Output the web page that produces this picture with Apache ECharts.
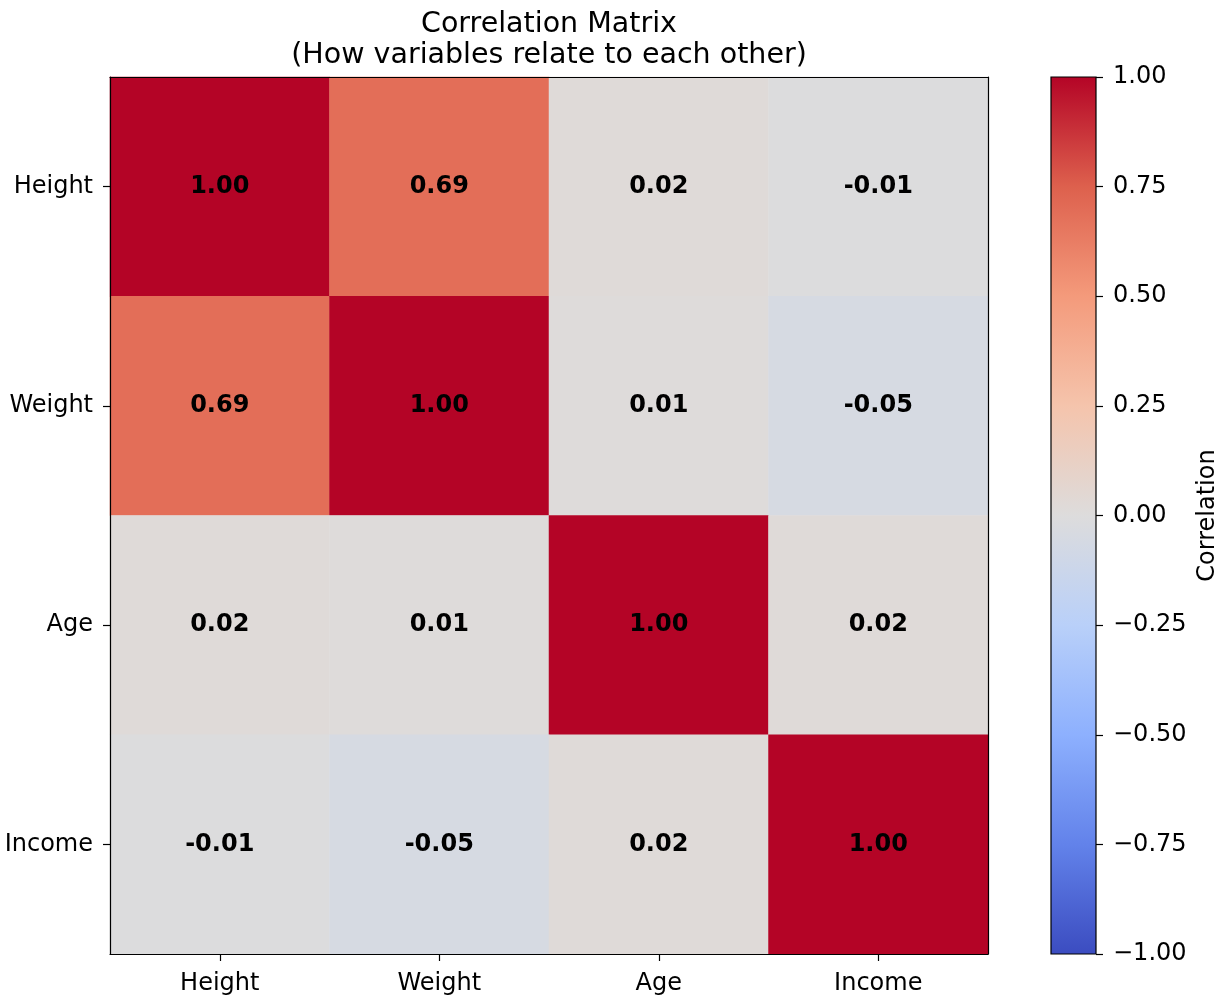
<!DOCTYPE html>
<html>
<head>
<meta charset="utf-8">
<title>Correlation Matrix</title>
<script src="https://cdn.jsdelivr.net/npm/echarts@6/dist/echarts.min.js"></script>
<style>
  html, body { margin: 0; padding: 0; background: #fff; }
  #chart { width: 1225px; height: 1000px; }
</style>
</head>
<body>
<div id="chart"></div>
<script>
// Variables shown on both axes
const variables = ['Height', 'Weight', 'Age', 'Income'];

// Pairwise correlations, one row per variable (same order as above)
const rowHeight = [1.00, 0.69, 0.02, -0.01];
const rowWeight = [0.69, 1.00, 0.01, -0.05];
const rowAge    = [0.02, 0.01, 1.00, 0.02];
const rowIncome = [-0.01, -0.05, 0.02, 1.00];
const matrixRows = [rowHeight, rowWeight, rowAge, rowIncome];

// Colour bar tick values
const colorbarTicks = [-1.00, -0.75, -0.50, -0.25, 0.00, 0.25, 0.50, 0.75, 1.00];

// Diverging blue-grey-red palette (coolwarm), low to high
const coolwarm = ['#3b4cc0', '#6282ea', '#8db0fe', '#b9d0f9', '#dddcdc',
                  '#f5c4ac', '#f49a7b', '#dd604d', '#b40426'];

const FONT = 'DejaVu Sans';
const FS = 24;

// heatmap cells as [column, row, value]
const cells = [];
matrixRows.forEach((row, r) => {
  row.forEach((v, c) => cells.push([c, r, v]));
});

const chart = echarts.init(document.getElementById('chart'), null, { renderer: 'canvas' });

const gradientStops = coolwarm.map((c, i) => ({ offset: i / (coolwarm.length - 1), color: c }));

const frameLine = { show: true, onZero: false, lineStyle: { color: '#000', width: 1.2 } };

const option = {
  backgroundColor: '#ffffff',
  animation: false,
  textStyle: { fontFamily: FONT, color: '#000' },
  title: {
    text: 'Correlation Matrix\n(How variables relate to each other)',
    left: 544,
    top: 4,
    textAlign: 'center',
    textStyle: {
      fontFamily: FONT,
      fontWeight: 'normal',
      fontSize: 28.5,
      lineHeight: 31,
      color: '#000'
    }
  },
  grid: [
    {
      left: 110, top: 77, width: 878, height: 877,
      show: false
    },
    {
      left: 1051, top: 77, width: 45, height: 877,
      show: true, borderColor: '#000', borderWidth: 1.2,
      backgroundColor: new echarts.graphic.LinearGradient(0, 1, 0, 0, gradientStops)
    }
  ],
  xAxis: [
    {
      type: 'category', gridIndex: 0, data: variables, position: 'bottom',
      axisLine: frameLine,
      axisTick: { show: true, alignWithLabel: true, length: 7, lineStyle: { color: '#000', width: 1.2 } },
      axisLabel: { fontFamily: FONT, fontSize: FS, color: '#000', margin: 18 },
      splitLine: { show: false }, splitArea: { show: false }, z: 5
    },
    {
      type: 'category', gridIndex: 0, data: variables, position: 'top',
      axisLine: frameLine,
      axisTick: { show: false }, axisLabel: { show: false },
      splitLine: { show: false }, splitArea: { show: false }, z: 5
    },
    {
      type: 'value', gridIndex: 1, min: 0, max: 1, show: false
    }
  ],
  yAxis: [
    {
      type: 'category', gridIndex: 0, data: variables, inverse: true, position: 'left',
      axisLine: frameLine,
      axisTick: { show: true, alignWithLabel: true, length: 7, lineStyle: { color: '#000', width: 1.2 } },
      axisLabel: { fontFamily: FONT, fontSize: FS, color: '#000', margin: 17 },
      splitLine: { show: false }, splitArea: { show: false }, z: 5
    },
    {
      type: 'category', gridIndex: 0, data: variables, inverse: true, position: 'right',
      axisLine: frameLine,
      axisTick: { show: false }, axisLabel: { show: false },
      splitLine: { show: false }, splitArea: { show: false }, z: 5
    },
    {
      type: 'value', gridIndex: 1, position: 'right',
      min: colorbarTicks[0], max: colorbarTicks[colorbarTicks.length - 1], interval: 0.25,
      axisLine: { show: false, onZero: false },
      axisTick: { show: true, inside: false, length: 7, lineStyle: { color: '#000', width: 1.2 } },
      axisLabel: {
        fontFamily: FONT, fontSize: FS, color: '#000', margin: 17,
        formatter: v => (v < 0 ? '\u2212' : '') + Math.abs(v).toFixed(2)
      },
      splitLine: { show: false },
      name: 'Correlation',
      nameLocation: 'middle',
      nameRotate: 90,
      nameGap: 100,
      nameTextStyle: { fontFamily: FONT, fontSize: FS, color: '#000' }
    }
  ],
  visualMap: {
    show: false,
    type: 'continuous',
    min: -1,
    max: 1,
    seriesIndex: 0,
    dimension: 2,
    inRange: { color: coolwarm }
  },
  series: [
    {
      type: 'heatmap',
      xAxisIndex: 0,
      yAxisIndex: 0,
      data: cells,
      label: {
        show: true,
        fontFamily: FONT,
        fontSize: FS,
        fontWeight: 'bold',
        color: '#000',
        formatter: p => p.value[2].toFixed(2)
      },
      itemStyle: { borderWidth: 0 },
      emphasis: { disabled: true }
    },
    {
      type: 'scatter',
      xAxisIndex: 2,
      yAxisIndex: 2,
      data: [],
      silent: true
    }
  ]
};

chart.setOption(option);
</script>
</body>
</html>
